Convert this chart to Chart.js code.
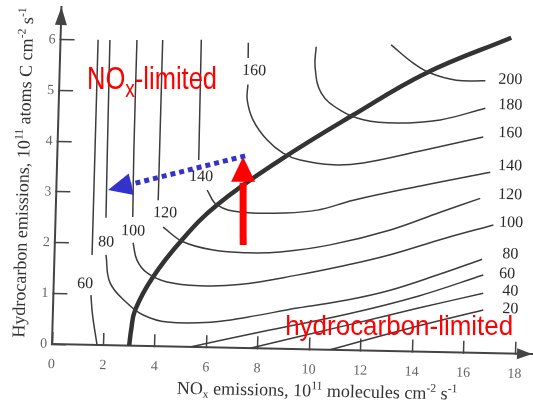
<!DOCTYPE html>
<html><head><meta charset="utf-8">
<script src="https://cdn.jsdelivr.net/npm/chart.js@4/dist/chart.umd.min.js"></script>
<style>html,body{margin:0;padding:0;background:#fff;overflow:hidden}canvas{display:block}</style>
</head><body>
<canvas id="c" width="533" height="408" style="width:533px;height:408px"></canvas>
<script>
// ---- tick labels ----
const xTicks = [0, 2, 4, 6, 8, 10, 12, 14, 16, 18];
const yTicks = [0, 1, 2, 3, 4, 5, 6];

// ---- ridge line (thick) ----
const ridge = [[3.0,0],[3.06,0.31],[3.19,0.7],[3.82,1.34],[4.94,2.11],[6.26,2.81],[8.66,3.72],[11.45,4.64],[14.25,5.5],[17.51,6.23]];

// ---- ozone isopleths (null = gap for the label) ----
const iso20  = [[10.8,0],[13.8,0.45],[16.72,0.85]];
const iso40  = [[7.7,0],[11.5,0.5],[14.2,0.86],[16.7,1.18]];
const iso60a = [[1.46,6.02],[1.46,3.9],[1.46,1.77],null,[1.46,0.98],[1.54,0.6],[1.75,0]];
const iso60b = [[5.37,0],[8.4,0.36],[11.5,0.72],[14.2,1.1],[16.68,1.54]];
const iso80  = [[1.92,6.02],[1.94,3.85],[1.96,2.51],null,[2.0,1.78],[2.19,1.23],[2.87,0.84],[3.51,0.61],[4.45,0.48],[6.24,0.5],[7.55,0.61],[9.49,0.81],[11.42,0.99],[13.08,1.2],[15.0,1.54],[16.62,1.85]];
const iso100 = [[2.97,6.03],[2.97,3.86],[3.0,2.54],null,[3.04,2.03],[3.21,1.69],[3.62,1.44],[4.4,1.27],[5.69,1.21],[7.2,1.25],[9.45,1.46],[11.38,1.68],[13.04,1.9],[15.16,2.25],[17.02,2.53]];
const iso120 = [[3.97,6.04],[3.97,3.87],[3.97,2.88],null,[4.19,2.35],[4.98,2.07],[6.16,1.92],[7.48,1.88],[8.76,1.91],[10.7,2.07],[13.02,2.39],[14.94,2.76],[16.48,3.05]];
const iso140 = [[5.47,6.06],[5.5,3.69],null,[5.86,3.1],[6.26,2.81],[7.17,2.68],[8.84,2.68],[10.16,2.75],[11.55,2.96],[14.14,3.27],[16.84,3.57]];
const iso160 = [[7.3,6.02],[7.31,5.72],null,[7.33,5.2],[7.32,4.89],[7.57,4.5],[8.14,4.11],[8.77,3.86],[9.44,3.73],[10.73,3.65],[11.89,3.7],[14.1,3.96],[16.53,4.26]];
const iso180 = [[9.94,5.97],[9.92,5.57],[10.19,5.06],[10.94,4.73],[11.85,4.55],[13.13,4.5],[14.84,4.58],[16.58,4.83]];
const iso200 = [[12.85,6.04],[13.73,5.69],[14.4,5.5],[15.42,5.37],[16.55,5.37]];

// ---- contour labels [text, x, y] ----
const inlineLabels = [['60',1.22,1.2],['80',1.99,2.03],['100',3.03,2.26],['120',4.25,2.63],['140',5.61,3.36],['160',7.56,5.47]];
const rightLabels = [['200',17.52,5.4],['180',17.55,4.9],['160',17.58,4.35],['140',17.61,3.7],['120',17.64,3.13],['100',17.71,2.58],['80',17.71,1.96],['60',17.61,1.57],['40',17.75,1.23],['20',17.77,0.88]];

// ---- annotations (data coords) ----
const noxLabelAt = [1.084, 5.04];
const hcLabelAt = [9.05, 0.27];
const redArrow = [[7.32, 2.03], [7.22, 3.77]];
const blueArrow = [[7.3, 3.79], [2.01, 3.06]];

const X_MAX = 18.66, Y_MAX = 6.65;
const SHEAR_X = 0.021, SHEAR_Y = 0.028;
const LINE = '#3c3c3c';
const SERIF = '"Liberation Serif", "DejaVu Serif", serif';
const SANS = '"Liberation Sans Narrow", "Liberation Sans", Arial, sans-serif';

const toPts = arr => arr.map(p => p ? {x: p[0], y: p[1]} : {x: null, y: null});
const iso = (arr) => ({data: toPts(arr), borderColor: LINE, borderWidth: 1.5, tension: 0.4});
const datasets = [iso20, iso40, iso60a, iso60b, iso80, iso100, iso120, iso140, iso160, iso180, iso200].map(iso);
datasets.push({data: toPts(ridge), borderColor: '#333', borderWidth: 4.5, tension: 0.4});
datasets.forEach(d => { d.showLine = true; d.pointRadius = 0; d.spanGaps = false; d.fill = false; });

function origin(chart) {
  return {x0: chart.scales.x.getPixelForValue(0), y0: chart.scales.y.getPixelForValue(0)};
}
function toScreen(chart, x, y) {
  const {x0, y0} = origin(chart);
  const u = chart.scales.x.getPixelForValue(x) - x0, v = chart.scales.y.getPixelForValue(y) - y0;
  return {x: x0 + u - SHEAR_Y * v, y: y0 + SHEAR_X * u + v};
}
function drawRich(ctx, parts, x, y, size, family, align) {
  let total = 0;
  const ws = parts.map(p => {
    const s = (p.sub || p.sup) ? size * (p.scale || 0.65) : size;
    ctx.font = s + 'px ' + family;
    const w = ctx.measureText(p.t).width; total += w; return {w, s};
  });
  let cx = align === 'center' ? x - total / 2 : x;
  ctx.textAlign = 'left'; ctx.textBaseline = 'alphabetic';
  parts.forEach((p, i) => {
    ctx.font = ws[i].s + 'px ' + family;
    const dy = p.sup ? -size * 0.4 : (p.sub ? size * (p.drop || 0.2) : 0);
    ctx.fillText(p.t, cx, y + dy);
    cx += ws[i].w;
  });
  return total;
}
function arrow(ctx, a, b, headLen, headHalf) {
  const dx = b.x - a.x, dy = b.y - a.y, L = Math.hypot(dx, dy);
  const ux = dx / L, uy = dy / L;
  const bx = b.x - ux * headLen, by = b.y - uy * headLen;
  ctx.beginPath();
  ctx.moveTo(b.x, b.y);
  ctx.lineTo(bx - uy * headHalf, by + ux * headHalf);
  ctx.lineTo(bx + uy * headHalf, by - ux * headHalf);
  ctx.closePath(); ctx.fill();
  return {x: bx, y: by};
}
function noPad(s) { s.paddingTop = 0; s.paddingBottom = 0; s.paddingLeft = 0; s.paddingRight = 0; }

const scanPlugin = {
  id: 'scan',
  beforeDraw(chart) {
    const ctx = chart.ctx, {x0, y0} = origin(chart);
    ctx.save();
    ctx.translate(x0, y0);
    ctx.transform(1, SHEAR_X, -SHEAR_Y, 1, 0, 0);
    ctx.translate(-x0, -y0);
  },
  afterDatasetsDraw(chart) {
    const ctx = chart.ctx, xs = chart.scales.x, ys = chart.scales.y, ca = chart.chartArea;
    const {x0, y0} = origin(chart);
    ctx.fillStyle = '#444';
    arrow(ctx, {x: x0, y: y0}, {x: x0, y: ca.top}, 18, 6);
    arrow(ctx, {x: x0, y: y0}, {x: ca.right, y: y0}, 15, 5.5);
    ctx.fillStyle = '#2a2a2a';
    ctx.font = '16px ' + SERIF;
    ctx.textAlign = 'center'; ctx.textBaseline = 'middle';
    inlineLabels.concat(rightLabels).forEach(([t, x, y]) => {
      ctx.fillText(t, xs.getPixelForValue(x), ys.getPixelForValue(y));
    });
    ctx.fillStyle = '#333';
    drawRich(ctx, [{t: 'NO'}, {t: 'x', sub: true}, {t: ' emissions, 10'}, {t: '11', sup: true}, {t: ' molecules cm'}, {t: '-2', sup: true}, {t: ' s'}, {t: '-1', sup: true}],
      xs.getPixelForValue(10.35), y0 + 47, 18, SERIF, 'center');
    ctx.save();
    ctx.translate(x0 - 28, ys.getPixelForValue(3.37));
    ctx.rotate(-Math.PI / 2);
    drawRich(ctx, [{t: 'Hydrocarbon emissions, 10'}, {t: '11', sup: true}, {t: ' atoms C cm'}, {t: '-2', sup: true}, {t: ' s'}, {t: '-1', sup: true}],
      0, 0, 18, SERIF, 'center');
    ctx.restore();
  },
  afterDraw(chart) {
    const ctx = chart.ctx;
    ctx.restore();
    ctx.fillStyle = '#ff0000';
    const fitText = (parts, at, size, targetW) => {
      const p = toScreen(chart, at[0], at[1]);
      ctx.save();
      let w = 0;
      parts.forEach(q => { ctx.font = ((q.sub) ? size * (q.scale || 0.65) : size) + 'px ' + SANS; w += ctx.measureText(q.t).width; });
      ctx.translate(p.x, p.y);
      ctx.scale(targetW / w, 1);
      drawRich(ctx, parts, 0, 0, size, SANS, 'left');
      ctx.restore();
    };
    fitText([{t: 'NO'}, {t: 'x', sub: true, scale: 0.75, drop: 0.26}, {t: '-limited'}], noxLabelAt, 32, 130);
    fitText([{t: 'hydrocarbon-limited'}], hcLabelAt, 28, 228);
    const ra = toScreen(chart, redArrow[0][0], redArrow[0][1]);
    const rb = toScreen(chart, redArrow[1][0], redArrow[1][1]);
    ctx.fillStyle = '#ff0000';
    const rbase = arrow(ctx, ra, rb, 25, 12);
    ctx.strokeStyle = '#ff0000'; ctx.lineWidth = 7; ctx.lineCap = 'butt';
    ctx.beginPath(); ctx.moveTo(ra.x, ra.y); ctx.lineTo(rbase.x, rbase.y + 1); ctx.stroke();
    const ba = toScreen(chart, blueArrow[0][0], blueArrow[0][1]);
    const bb = toScreen(chart, blueArrow[1][0], blueArrow[1][1]);
    ctx.fillStyle = '#3333cc';
    const bbase = arrow(ctx, ba, bb, 24, 11);
    ctx.strokeStyle = '#3333cc'; ctx.lineWidth = 5; ctx.setLineDash([5, 4]);
    ctx.beginPath(); ctx.moveTo(ba.x, ba.y); ctx.lineTo(bbase.x, bbase.y); ctx.stroke();
    ctx.setLineDash([]);
  }
};

new Chart(document.getElementById('c'), {
  type: 'scatter',
  data: {datasets},
  options: {
    responsive: false, animation: false, devicePixelRatio: 1, events: [],
    layout: {padding: {left: 0, top: 7, right: 1, bottom: 0}},
    plugins: {legend: {display: false}, tooltip: {enabled: false}, title: {display: false}},
    scales: {
      x: {
        type: 'linear', min: 0, max: X_MAX,
        afterBuildTicks: s => { s.ticks = xTicks.map(v => ({value: v})); },
        afterFit: s => { s.height = 64; noPad(s); },
        grid: {display: true, drawOnChartArea: false, drawTicks: true, tickLength: -12, tickWidth: 1.5, tickColor: '#444'},
        border: {display: true, color: '#444', width: 2},
        ticks: {padding: 24, color: '#666', font: {family: SERIF, size: 14}, maxRotation: 0, autoSkip: false, callback: v => String(v)}
      },
      y: {
        type: 'linear', min: 0, max: Y_MAX,
        afterBuildTicks: s => { s.ticks = yTicks.map(v => ({value: v})); },
        afterFit: s => { s.width = 52; noPad(s); },
        grid: {display: true, drawOnChartArea: false, drawTicks: true, tickLength: -14, tickWidth: 1.5, tickColor: '#444'},
        border: {display: true, color: '#444', width: 2},
        ticks: {padding: 19, color: '#666', font: {family: SERIF, size: 14}, autoSkip: false, callback: v => String(v)}
      }
    }
  },
  plugins: [scanPlugin]
});
</script>
</body></html>
